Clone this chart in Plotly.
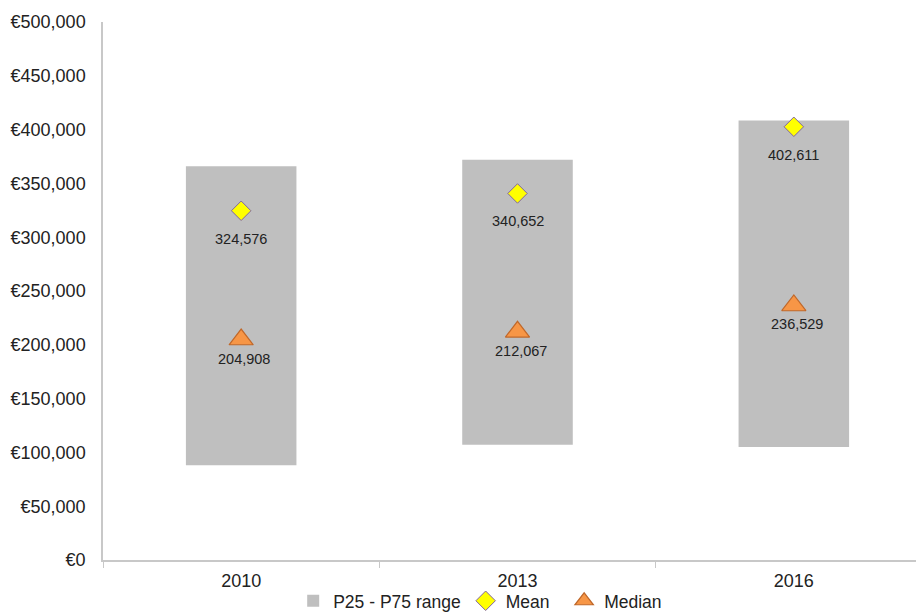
import plotly.graph_objects as go

years = ["2010", "2013", "2016"]
p25 = [88000, 107000, 105000]
p75 = [366000, 372000, 408500]
mean = [324576, 340652, 402611]
median = [204908, 212067, 236529]
y_ticks = [0, 50000, 100000, 150000, 200000, 250000, 300000, 350000, 400000, 450000, 500000]

FONT = "Liberation Sans, Arial, sans-serif"
AXIS_GREY = "#c8c8c8"
TEXT = "#222222"

fig = go.Figure()
fig.add_trace(go.Bar(
    x=years, y=[b - a for a, b in zip(p25, p75)], base=p25,
    width=0.4, marker=dict(color="#bfbfbf", line=dict(width=0)),
    name="P25 - P75 range", hoverinfo="skip",
))
fig.add_trace(go.Scatter(
    x=years, y=mean, mode="markers", name="Mean\u00a0\u00a0",
    marker=dict(symbol="diamond", size=15, color="#ffff00",
                line=dict(color="#8064a2", width=1)),
))
fig.add_trace(go.Scatter(
    x=years, y=median, mode="markers", name="Median",
    marker=dict(symbol="triangle-up", size=21, color="#f79646",
                line=dict(color="#c0682a", width=1.2)),
))

for i, v in enumerate(mean):
    fig.add_annotation(x=i, y=v, xref="x", yref="y", text=f"{v:,}", showarrow=False,
                       yshift=-28, font=dict(family=FONT, size=14.5, color=TEXT))
for i, v in enumerate(median):
    fig.add_annotation(x=i, y=v, xref="x", yref="y", text=f"{v:,}", showarrow=False,
                       yshift=-19, xshift=3, font=dict(family=FONT, size=14.5, color=TEXT))

fig.update_layout(
    width=924, height=612,
    margin=dict(l=95, r=0, t=14, b=60, autoexpand=False),
    paper_bgcolor="white", plot_bgcolor="white",
    font=dict(family=FONT, size=18, color=TEXT),
    showlegend=True,
    legend=dict(orientation="h", x=0.455, xanchor="center", y=-0.076, yanchor="middle",
                font=dict(family=FONT, size=17.5, color=TEXT),
                itemsizing="trace", tracegroupgap=0, bgcolor="rgba(0,0,0,0)"),
)
fig.update_xaxes(
    type="category", range=[-0.5, 2.5], automargin=False,
    showline=True, linecolor=AXIS_GREY, linewidth=1.5,
    ticks="outside", tickson="boundaries", ticklen=6, tickcolor=AXIS_GREY,
    showgrid=False, zeroline=False, ticklabelstandoff=4,
    tickfont=dict(family=FONT, size=18, color=TEXT),
)
fig.update_yaxes(
    range=[0, 500000], tickvals=y_ticks, automargin=False,
    ticktext=["€0" if v == 0 else f"€{v:,}" for v in y_ticks],
    showline=True, linecolor=AXIS_GREY, linewidth=1.5,
    ticks="", showgrid=False, zeroline=False, ticklabelstandoff=12,
    tickfont=dict(family=FONT, size=18, color=TEXT),
)

fig.write_html("out.html")
